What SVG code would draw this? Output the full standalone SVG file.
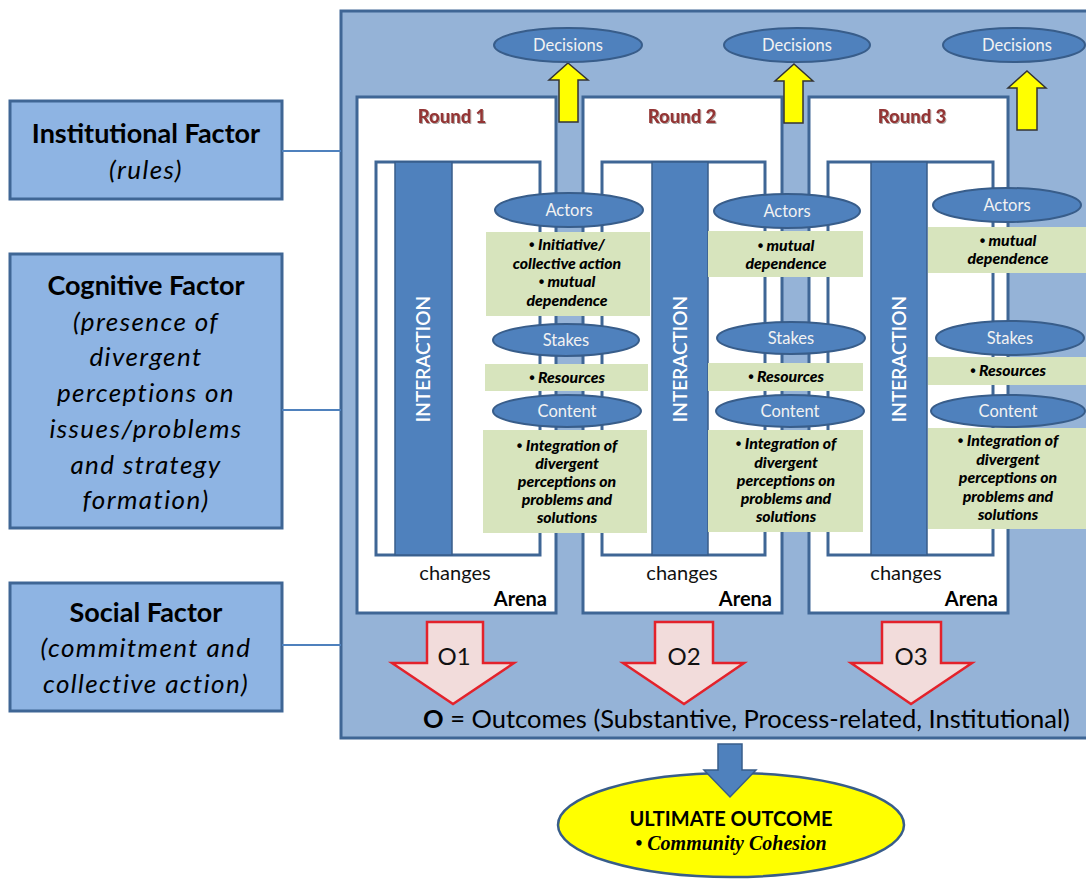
<svg xmlns="http://www.w3.org/2000/svg" width="1086" height="880" viewBox="0 0 1086 880">
<style>
.panel{fill:#95b3d7;stroke:#3f6695;stroke-width:3}
.factor{fill:#8eb4e3;stroke:#3f6695;stroke-width:3}
.fb{font-family:Lato,"Liberation Sans",sans-serif;font-weight:bold;font-size:27px;fill:#000;text-anchor:middle}
.fi{font-family:Lato,"Liberation Sans",sans-serif;font-style:italic;font-size:26px;letter-spacing:1.4px;fill:#000;text-anchor:middle}
.arena{fill:#fff;stroke:#3f6695;stroke-width:3}
.inner{fill:#fff;stroke:#3f6695;stroke-width:3}
.bar{fill:#4f81bd;stroke:#385d8a;stroke-width:1.5}
.bartxt{font-family:Lato,"Liberation Sans",sans-serif;font-weight:600;font-size:19px;fill:#fff;text-anchor:middle}
.round{font-family:Lato,"Liberation Sans",sans-serif;font-weight:900;font-size:18.5px;fill:#943634;text-anchor:middle;filter:url(#shadow)}
.chg{font-family:Lato,"Liberation Sans",sans-serif;font-size:20px;fill:#111;text-anchor:middle}
.arn{font-family:Lato,"Liberation Sans",sans-serif;font-weight:bold;font-size:20px;fill:#000;text-anchor:end}
.ell{fill:#4f81bd;stroke:#385d8a;stroke-width:2}
.elt{font-family:Lato,"Liberation Sans",sans-serif;font-size:16.5px;fill:#f2f2f2;text-anchor:middle}
.green{fill:#d7e4bd}
.gt{font-family:Lato,"Liberation Sans",sans-serif;font-weight:900;font-style:italic;font-size:15.8px;fill:#000;text-anchor:middle}
.bul{font-family:"Liberation Sans",sans-serif;font-style:normal;font-weight:bold}
.yarrow{fill:#ffff00;stroke:#333;stroke-width:1.5}
.oarrow{fill:#f2dcdb;stroke:#e3222b;stroke-width:2.5}
.ot{font-family:Lato,"Liberation Sans",sans-serif;font-size:24px;fill:#111;text-anchor:middle}
.link{stroke:#4f81bd;stroke-width:2;fill:none}
</style>
<defs>
  <filter id="shadow" x="-10%" y="-20%" width="130%" height="160%">
    <feDropShadow dx="1" dy="1" stdDeviation="0.6" flood-color="#000" flood-opacity="0.35"/>
  </filter>
</defs>

<g id="main-panel">
  <rect class="panel" x="341" y="11" width="760" height="727"/>
</g>

<g id="factor-institutional">
  <rect class="factor" x="10" y="101" width="272" height="98"/>
  <text class="fb" x="146" y="143">Institutional Factor</text>
  <text class="fi" x="146" y="179">(rules)</text>
</g>
<g id="factor-cognitive">
  <rect class="factor" x="10" y="254" width="272" height="274"/>
  <text class="fb" x="146" y="295">Cognitive Factor</text>
  <text class="fi" x="146" y="331">(presence of</text>
  <text class="fi" x="146" y="366">divergent</text>
  <text class="fi" x="146" y="402">perceptions on</text>
  <text class="fi" x="146" y="438">issues/problems</text>
  <text class="fi" x="146" y="474">and strategy</text>
  <text class="fi" x="146" y="509">formation)</text>
</g>
<g id="factor-social">
  <rect class="factor" x="10" y="583" width="272" height="128"/>
  <text class="fb" x="146" y="622">Social Factor</text>
  <text class="fi" x="146" y="657">(commitment and</text>
  <text class="fi" x="146" y="693">collective action)</text>
</g>

<g id="round-1">
  <rect class="arena" x="357" y="97" width="199" height="516"/>
  <rect class="inner" x="376" y="162" width="164" height="393"/>
  <rect class="bar" x="395" y="162" width="57" height="393"/>
  <text class="bartxt" transform="translate(430,359) rotate(-90)">INTERACTION</text>
  <text class="round" x="452" y="123">Round 1</text>
  <text class="chg" x="455" y="580">changes</text>
  <text class="arn" x="547" y="606">Arena</text>
</g>
<g id="round-2">
  <rect class="arena" x="583" y="97" width="199" height="516"/>
  <rect class="inner" x="602" y="162" width="163" height="393"/>
  <rect class="bar" x="652" y="162" width="56" height="393"/>
  <text class="bartxt" transform="translate(687,359) rotate(-90)">INTERACTION</text>
  <text class="round" x="682" y="123">Round 2</text>
  <text class="chg" x="682" y="580">changes</text>
  <text class="arn" x="772" y="606">Arena</text>
</g>
<g id="round-3">
  <rect class="arena" x="809" y="97" width="199" height="516"/>
  <rect class="inner" x="828" y="162" width="165" height="393"/>
  <rect class="bar" x="871" y="162" width="56" height="393"/>
  <text class="bartxt" transform="translate(906,359) rotate(-90)">INTERACTION</text>
  <text class="round" x="912" y="123">Round 3</text>
  <text class="chg" x="906" y="580">changes</text>
  <text class="arn" x="998" y="606">Arena</text>
</g>

<g id="connectors">
  <line class="link" x1="282" y1="151" x2="341" y2="151"/>
  <line class="link" x1="282" y1="410" x2="341" y2="410"/>
  <line class="link" x1="282" y1="645" x2="341" y2="645"/>
  <polygon class="yarrow" points="568,63 588,80 578,80 578,122 559,122 559,80 549,80"/>
  <polygon class="yarrow" points="794,64 813,81 803,81 803,123 784,123 784,81 775,81"/>
  <polygon class="yarrow" points="1027,71 1046,88 1037,88 1037,130 1017,130 1017,88 1008,88"/>
  <polygon class="oarrow" points="427,622 483,622 483,663 514,663 453,704 392,663 427,663"/>
  <polygon class="oarrow" points="655,622 713,622 713,663 744,663 684,704 623,663 655,663"/>
  <polygon class="oarrow" points="882,622 941,622 941,663 972,663 911,704 851,663 882,663"/>
</g>

<g id="round-1-items">
  <ellipse class="ell" cx="569" cy="210" rx="74" ry="17"/>
  <text class="elt" x="569" y="216">Actors</text>
  <rect class="green" x="486" y="232" width="164" height="84"/>
  <text class="gt" x="567" y="250"><tspan class="bul">•</tspan> Initiative/</text>
  <text class="gt" x="567" y="269">collective action</text>
  <text class="gt" x="567" y="287"><tspan class="bul">•</tspan> mutual</text>
  <text class="gt" x="567" y="306">dependence</text>
  <ellipse class="ell" cx="566" cy="340" rx="73" ry="16"/>
  <text class="elt" x="566" y="346">Stakes</text>
  <rect class="green" x="485" y="364" width="163" height="27"/>
  <text class="gt" x="567" y="383"><tspan class="bul">•</tspan> Resources</text>
  <ellipse class="ell" cx="567" cy="411" rx="74" ry="16"/>
  <text class="elt" x="567" y="417">Content</text>
  <rect class="green" x="483" y="430" width="164" height="103"/>
  <text class="gt" x="567" y="451"><tspan class="bul">•</tspan> Integration of</text>
  <text class="gt" x="567" y="469">divergent</text>
  <text class="gt" x="567" y="487">perceptions  on</text>
  <text class="gt" x="567" y="505">problems and</text>
  <text class="gt" x="567" y="523">solutions</text>
</g>
<g id="round-2-items">
  <ellipse class="ell" cx="787" cy="211" rx="73" ry="17"/>
  <text class="elt" x="787" y="217">Actors</text>
  <rect class="green" x="708" y="231" width="155" height="46"/>
  <text class="gt" x="786" y="251"><tspan class="bul">•</tspan> mutual</text>
  <text class="gt" x="786" y="269">dependence</text>
  <ellipse class="ell" cx="791" cy="338" rx="74" ry="16"/>
  <text class="elt" x="791" y="344">Stakes</text>
  <rect class="green" x="708" y="363" width="155" height="28"/>
  <text class="gt" x="786" y="382"><tspan class="bul">•</tspan> Resources</text>
  <ellipse class="ell" cx="790" cy="411" rx="74" ry="16"/>
  <text class="elt" x="790" y="417">Content</text>
  <rect class="green" x="708" y="430" width="155" height="102"/>
  <text class="gt" x="786" y="449"><tspan class="bul">•</tspan> Integration of</text>
  <text class="gt" x="786" y="468">divergent</text>
  <text class="gt" x="786" y="486">perceptions  on</text>
  <text class="gt" x="786" y="504">problems and</text>
  <text class="gt" x="786" y="522">solutions</text>
</g>
<g id="round-3-items">
  <ellipse class="ell" cx="1007" cy="205" rx="74" ry="17"/>
  <text class="elt" x="1007" y="211">Actors</text>
  <rect class="green" x="928" y="227" width="158" height="46"/>
  <text class="gt" x="1008" y="246"><tspan class="bul">•</tspan> mutual</text>
  <text class="gt" x="1008" y="264">dependence</text>
  <ellipse class="ell" cx="1010" cy="338" rx="74" ry="17"/>
  <text class="elt" x="1010" y="344">Stakes</text>
  <rect class="green" x="928" y="357" width="158" height="28"/>
  <text class="gt" x="1008" y="376"><tspan class="bul">•</tspan> Resources</text>
  <ellipse class="ell" cx="1008" cy="411" rx="77" ry="16"/>
  <text class="elt" x="1008" y="417">Content</text>
  <rect class="green" x="928" y="428" width="158" height="101"/>
  <text class="gt" x="1008" y="446"><tspan class="bul">•</tspan> Integration of</text>
  <text class="gt" x="1008" y="465">divergent</text>
  <text class="gt" x="1008" y="483">perceptions  on</text>
  <text class="gt" x="1008" y="502">problems and</text>
  <text class="gt" x="1008" y="520">solutions</text>
</g>

<g id="decisions-1">
  <ellipse class="ell" cx="568" cy="45" rx="74" ry="17"/>
  <text class="elt" x="568" y="51">Decisions</text>
</g>
<g id="decisions-2">
  <ellipse class="ell" cx="797" cy="45" rx="73" ry="17"/>
  <text class="elt" x="797" y="51">Decisions</text>
</g>
<g id="decisions-3">
  <ellipse class="ell" cx="1014" cy="45" rx="71" ry="17"/>
  <text class="elt" x="1017" y="51">Decisions</text>
</g>

<g id="outcome-labels">
  <text class="ot" x="454" y="665">O1</text>
  <text class="ot" x="684" y="665">O2</text>
  <text class="ot" x="911" y="665">O3</text>
  <text x="423" y="728" font-family="Lato, 'Liberation Sans', sans-serif" font-size="25.5" fill="#000"><tspan font-weight="bold">O</tspan> = Outcomes (Substantive, Process-related, Institutional)</text>
</g>

<g id="ultimate-outcome">
  <ellipse cx="731" cy="825" rx="173" ry="52" fill="#ffff00" stroke="#385d8a" stroke-width="2.5"/>
  <text x="731" y="826" font-family="Lato, 'Liberation Sans', sans-serif" font-weight="bold" font-size="20" fill="#000" text-anchor="middle">ULTIMATE OUTCOME</text>
  <text x="731" y="850" font-family="'Liberation Serif', serif" font-weight="bold" font-style="italic" font-size="20" fill="#000" text-anchor="middle">• Community Cohesion</text>
</g>
<g id="final-arrow">
  <polygon points="718,744 742,744 742,770 756,770 730,797 704,770 718,770" fill="#4f81bd" stroke="#385d8a" stroke-width="1.5"/>
</g>
</svg>
